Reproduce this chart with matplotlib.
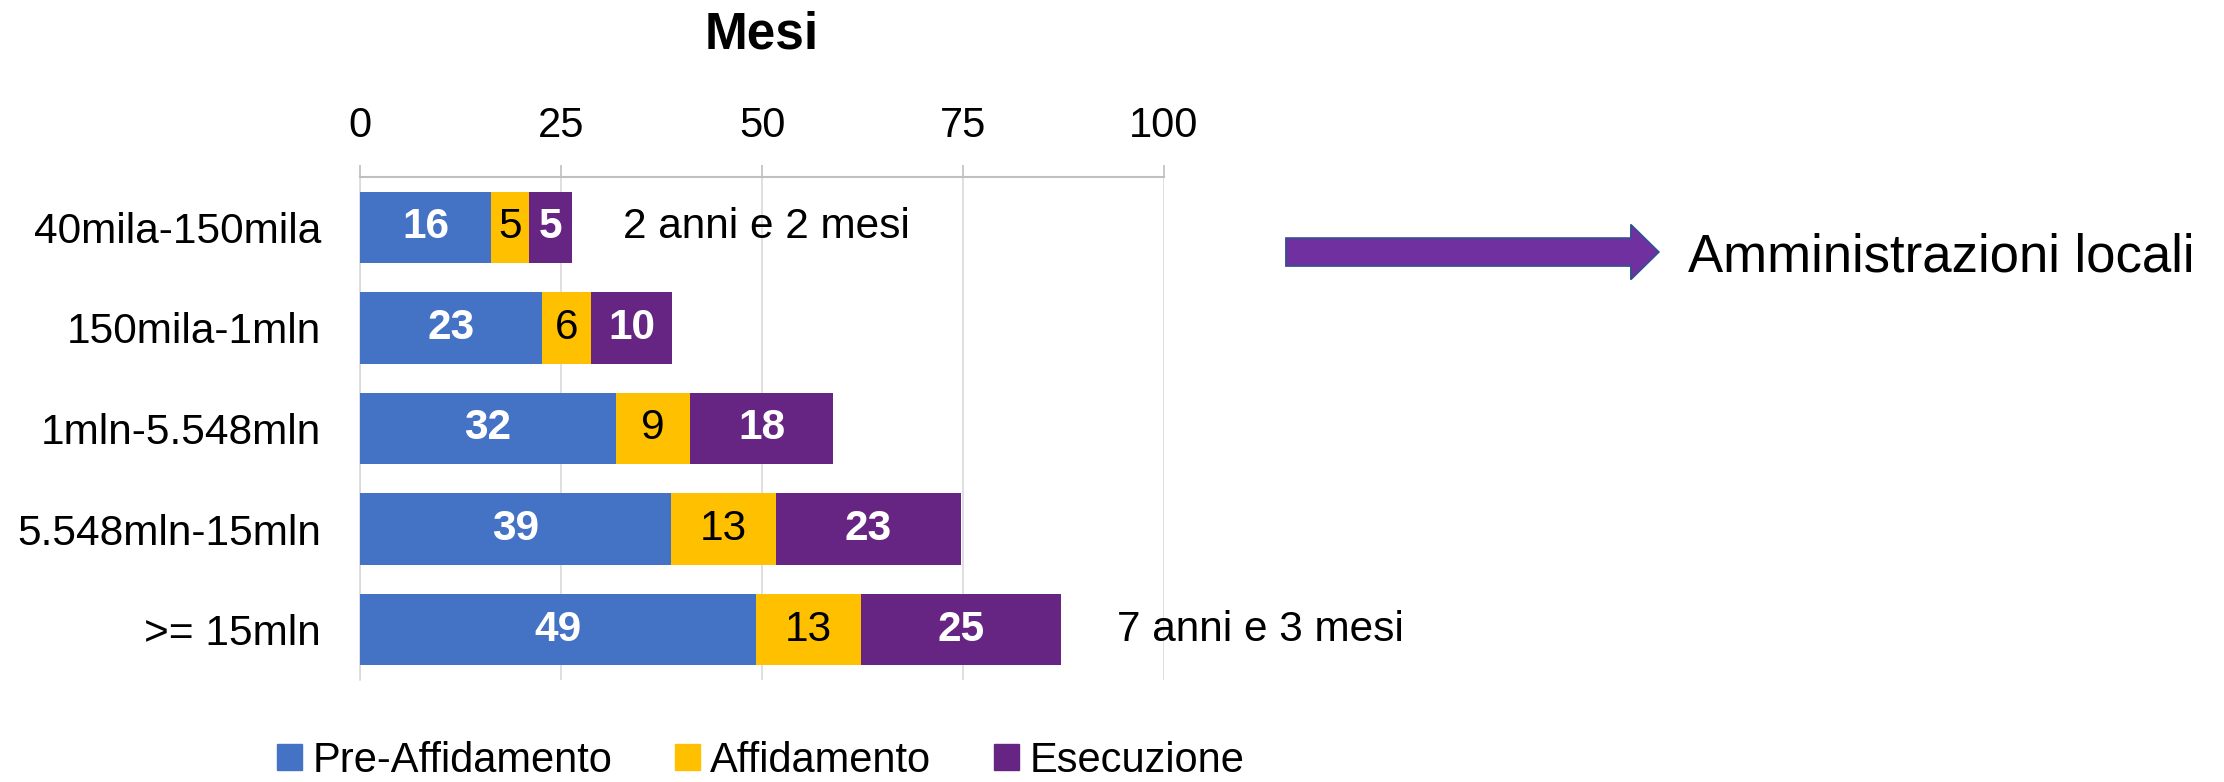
import matplotlib.pyplot as plt
from matplotlib.patches import Patch, FancyArrow
import numpy as np

plt.rcParams['font.family'] = ['Liberation Sans', 'DejaVu Sans']

categories = ["40mila-150mila", "150mila-1mln", "1mln-5.548mln", "5.548mln-15mln", ">= 15mln"]
pre_affidamento = [16.3, 22.6, 31.8, 38.7, 49.3]
affidamento = [4.7, 6.1, 9.3, 13.0, 13.0]
esecuzione = [5.4, 10.1, 17.7, 23.0, 24.9]
series_names = ["Pre-Affidamento", "Affidamento", "Esecuzione"]
xticks = [0, 25, 50, 75, 100]
notes = {0: (32.7, "2 anni e 2 mesi"), 4: (94.2, "7 anni e 3 mesi")}

BLUE = "#4472C4"
YELLOW = "#FFC000"
PURPLE = "#662483"
FS = 30.5


def main():
    fig = plt.figure(figsize=(22.24, 7.82), dpi=100)
    ax = fig.add_axes([0.1619, 0.1304, 0.5234 - 0.1619, 0.7737 - 0.1304])

    y = np.arange(len(categories))
    left = np.zeros(len(categories))
    styles = [
        (pre_affidamento, BLUE, "white", "bold"),
        (affidamento, YELLOW, "black", "normal"),
        (esecuzione, PURPLE, "white", "bold"),
    ]
    for vals, col, tcol, tw in styles:
        vals = np.array(vals)
        ax.barh(y, vals, left=left, height=0.71, color=col, zorder=3)
        for yi, l, v in zip(y, left, vals):
            ax.text(l + v / 2, yi, f"{v:.0f}", ha="center", va="center",
                    color=tcol, fontsize=FS, fontweight=tw, zorder=4)
        left = left + vals

    for idx, (xpos, txt) in notes.items():
        ax.text(xpos, idx, txt, ha="left", va="center", fontsize=FS, color="black")

    ax.set_xlim(0, 100)
    ax.set_ylim(4.5, -0.5)
    ax.set_yticks(y)
    ax.set_yticklabels(categories, fontsize=FS)
    ax.set_xticks(xticks)
    ax.set_xticklabels([str(t) for t in xticks], fontsize=30)
    ax.xaxis.tick_top()
    ax.tick_params(axis="x", direction="out", length=9, width=1.2, color="#BFBFBF", pad=13)
    ax.tick_params(axis="y", length=0, pad=28)

    ax.grid(axis="x", color="#D9D9D9", linewidth=1.2, zorder=0)
    ax.spines["top"].set_color("#BFBFBF")
    ax.spines["top"].set_linewidth(1.5)
    ax.spines["left"].set_color("#D9D9D9")
    ax.spines["left"].set_linewidth(1.2)
    ax.spines["right"].set_visible(False)
    ax.spines["bottom"].set_visible(False)

    fig.text(0.3425, 0.955, "Mesi", ha="center", va="center", fontsize=37, fontweight="bold")

    handles = [Patch(color=c) for c in (BLUE, YELLOW, PURPLE)]
    fig.legend(handles, series_names, loc="center", bbox_to_anchor=(0.342, 0.027),
               ncol=3, frameon=False, fontsize=30, handlelength=0.6, handleheight=0.6,
               handletextpad=0.25, columnspacing=1.5, borderpad=0.1)

    # freccia verso l'etichetta
    arrow = FancyArrow(0.5782, 0.6777, 0.1677, 0, width=0.0358, head_width=0.0703,
                       head_length=0.0126, length_includes_head=True,
                       facecolor="#7030A0", edgecolor="#2F528F", linewidth=1.2,
                       transform=fig.transFigure)
    fig.patches.append(arrow)
    fig.text(0.759, 0.6713, "Amministrazioni locali", ha="left", va="center", fontsize=38)

    fig.savefig("out.png", dpi=100)


if __name__ == '__main__':
    main()
